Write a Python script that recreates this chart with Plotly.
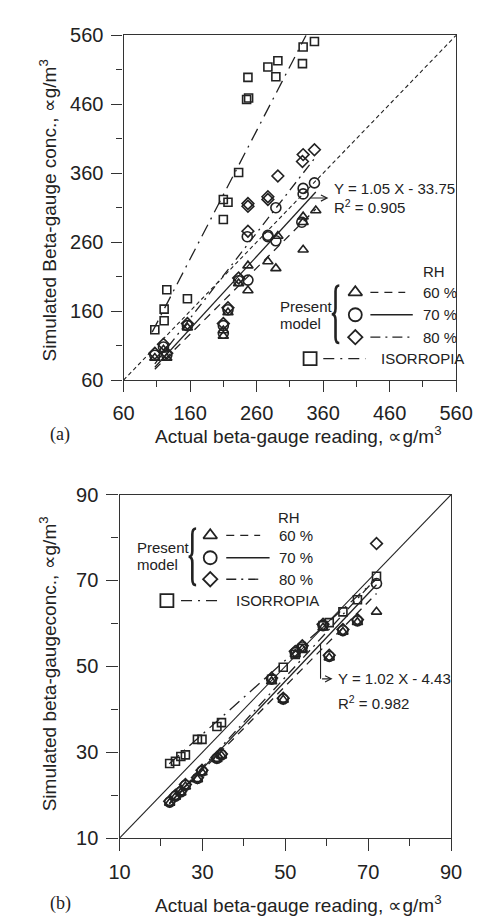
import plotly.graph_objects as go

W, H = 483, 917
FONT = "Liberation Sans, Arial, sans-serif"
INK = "#222222"

# ---------------- Panel (a) data ----------------
a_tri_x = [107, 125, 120, 156, 210, 210, 217, 233, 247, 247, 277, 289, 292, 330, 330, 330, 349]
a_tri_y = [92, 92, 104, 136, 132, 124, 158, 200, 190, 226, 232, 222, 269, 249, 289, 297, 306]

a_cir_x = [107, 125, 120, 156, 210, 210, 217, 233, 247, 246, 277, 289, 289, 330, 330, 347, 328, 277]
a_cir_y = [96, 96, 108, 139, 139, 128, 162, 204, 205, 268, 270, 262, 310, 338, 330, 346, 289, 268]

a_dia_x = [107, 125, 120, 156, 210, 217, 233, 247, 247, 247, 277, 277, 292, 329, 330, 347]
a_dia_y = [99, 99, 112, 142, 142, 165, 208, 276, 312, 316, 322, 326, 356, 377, 387, 394]

a_sq_x = [107, 121, 121, 125, 156, 210, 210, 217, 233, 245, 248, 247, 277, 289, 292, 329, 330, 347]
a_sq_y = [133, 146, 163, 191, 178, 293, 322, 318, 361, 467, 469, 499, 514, 500, 523, 519, 543, 551]

# regression lines (slope, intercept, x start, x end)
a_fit_60 = (0.96, -27.0, 107, 349)
a_fit_70 = (1.05, -33.75, 107, 349)
a_fit_80 = (1.24, -49.0, 107, 347)
a_fit_iso = (1.86, -62.0, 103, 334.4)
a_ticks = [60, 160, 260, 360, 460, 560]

# ---------------- Panel (b) data ----------------
b_x = [22.1, 23.5, 24.8, 25.9, 28.8, 29.9, 33.5, 34.6, 46.7, 49.5, 52.4, 54.1, 59.1, 60.6, 63.9, 67.4, 72.0]
b_tri_y = [18.2, 19.6, 20.6, 22.0, 23.7, 25.3, 28.4, 29.2, 46.5, 42.2, 52.8, 54.0, 59.0, 52.0, 58.0, 60.3, 62.7]
b_cir_y = [18.4, 19.8, 20.8, 22.3, 23.9, 25.6, 28.6, 29.4, 47.0, 42.4, 53.2, 54.5, 59.5, 52.3, 58.3, 60.6, 69.3]
b_dia_y = [18.6, 20.0, 21.0, 22.5, 24.1, 25.8, 28.8, 29.6, 47.3, 42.6, 53.5, 54.8, 59.8, 52.6, 58.6, 60.9, 78.6]
b_sq_y = [27.4, 27.9, 29.0, 29.4, 33.0, 33.0, 36.0, 36.9, 47.0, 49.8, 52.8, 54.2, 59.5, 60.2, 62.7, 65.5, 71.0]

b_fit_60 = (0.98, -3.6, 22, 72)
b_fit_70 = (1.02, -4.43, 22, 72)
b_fit_80 = (1.05, -5.0, 22, 72)
b_fit_iso = (0.86, 8.4, 22, 72)
b_ticks = [10, 30, 50, 70, 90]

series_names = ["60 %", "70 %", "80 %", "ISORROPIA"]
symbols = ["triangle-up-open", "circle-open", "diamond-open", "square-open"]
legend_sizes = [12, 13, 11, 13]
dashes = ["8px,6px", "solid", "10px,5px,2px,5px", "13px,6px,2px,6px"]

fig = go.Figure()


def add_pts(x, y, sym, size, xa, ya):
    fig.add_trace(go.Scatter(x=x, y=y, mode="markers", xaxis=xa, yaxis=ya,
                             marker=dict(symbol=sym, size=size, color=INK,
                                         line=dict(color=INK, width=1.6)),
                             showlegend=False, hoverinfo="skip"))


def add_fit(fit, dash, xa, ya, width=1.3):
    m, c, x0, x1 = fit
    fig.add_trace(go.Scatter(x=[x0, x1], y=[m * x0 + c, m * x1 + c], mode="lines",
                             xaxis=xa, yaxis=ya, line=dict(color=INK, width=width, dash=dash),
                             showlegend=False, hoverinfo="skip"))


# Panel (a)
fig.add_trace(go.Scatter(x=[60, 560], y=[60, 560], mode="lines", xaxis="x", yaxis="y",
                         line=dict(color=INK, width=1.1, dash="4px,3px"),
                         showlegend=False, hoverinfo="skip"))
for fit, d in zip([a_fit_60, a_fit_70, a_fit_80, a_fit_iso], dashes):
    add_fit(fit, d, "x", "y")
add_pts(a_tri_x, a_tri_y, symbols[0], 9, "x", "y")
add_pts(a_cir_x, a_cir_y, symbols[1], 10, "x", "y")
add_pts(a_dia_x, a_dia_y, symbols[2], 9, "x", "y")
add_pts(a_sq_x, a_sq_y, symbols[3], 8, "x", "y")

# Panel (b)
fig.add_trace(go.Scatter(x=[10, 90], y=[10, 90], mode="lines", xaxis="x2", yaxis="y2",
                         line=dict(color=INK, width=1.1), showlegend=False, hoverinfo="skip"))
for fit, d in zip([b_fit_60, b_fit_70, b_fit_80, b_fit_iso], dashes):
    add_fit(fit, d, "x2", "y2")
add_pts(b_x, b_tri_y, symbols[0], 9, "x2", "y2")
add_pts(b_x, b_cir_y, symbols[1], 10, "x2", "y2")
add_pts(b_x, b_dia_y, symbols[2], 9, "x2", "y2")
add_pts(b_x, b_sq_y, symbols[3], 8, "x2", "y2")

# ---------------- Legends (pixel overlay axes) ----------------
legend_rows = {
    "a": dict(mx=357, sqx=309, rows=[280, 303, 326], sqy=348, l0=373, l1=[410, 418, 417],
              lab=427, iso_l=(323, 368), iso_lab=382, rh=(427, 259), pm=(275, 295, 312),
              brace=(340, 273, 332)),
    "b": dict(mx=203, sqx=157, rows=[529, 552, 574], sqy=596, l0=220, l1=[256, 266, 258],
              lab=274, iso_l=(172, 215), iso_lab=228, rh=(273, 511), pm=(123, 542, 559),
              brace=(188, 522, 580)),
}

annotations = []
shapes = []
for key, L in legend_rows.items():
    for i in range(3):
        y = L["rows"][i]
        fig.add_trace(go.Scatter(x=[L["mx"]], y=[y], mode="markers", xaxis="x3", yaxis="y3",
                                 marker=dict(symbol=symbols[i], size=legend_sizes[i], color=INK,
                                             line=dict(color=INK, width=1.8)),
                                 showlegend=False, hoverinfo="skip"))
        fig.add_trace(go.Scatter(x=[L["l0"], L["l1"][i]], y=[y, y], mode="lines", xaxis="x3", yaxis="y3",
                                 line=dict(color=INK, width=1.3, dash=dashes[i]),
                                 showlegend=False, hoverinfo="skip"))
        annotations.append(dict(x=L["lab"] / W, y=1 - y / H, xref="paper", yref="paper",
                                text=series_names[i], showarrow=False, xanchor="left",
                                yanchor="middle", font=dict(family=FONT, size=15, color=INK)))
    fig.add_trace(go.Scatter(x=[L["sqx"]], y=[L["sqy"]], mode="markers", xaxis="x3", yaxis="y3",
                             marker=dict(symbol=symbols[3], size=legend_sizes[3], color=INK,
                                         line=dict(color=INK, width=1.8)),
                             showlegend=False, hoverinfo="skip"))
    fig.add_trace(go.Scatter(x=list(L["iso_l"]), y=[L["sqy"], L["sqy"]], mode="lines",
                             xaxis="x3", yaxis="y3",
                             line=dict(color=INK, width=1.3, dash="11px,6px,2px,6px"),
                             showlegend=False, hoverinfo="skip"))
    annotations.append(dict(x=L["iso_lab"] / W, y=1 - L["sqy"] / H, xref="paper", yref="paper",
                            text="ISORROPIA", showarrow=False, xanchor="left", yanchor="middle",
                            font=dict(family=FONT, size=15, color=INK)))
    annotations.append(dict(x=L["rh"][0] / W, y=1 - L["rh"][1] / H, xref="paper", yref="paper",
                            text="RH", showarrow=False, xanchor="left", yanchor="middle",
                            font=dict(family=FONT, size=15, color=INK)))
    annotations.append(dict(x=L["pm"][0] / W, y=1 - L["pm"][1] / H, xref="paper", yref="paper",
                            text="Present", showarrow=False, xanchor="left", yanchor="middle",
                            font=dict(family=FONT, size=15, color=INK)))
    annotations.append(dict(x=L["pm"][0] / W, y=1 - L["pm"][2] / H, xref="paper", yref="paper",
                            text="model", showarrow=False, xanchor="left", yanchor="middle",
                            font=dict(family=FONT, size=15, color=INK)))
    bx, bt, bb = L["brace"]
    bm = (bt + bb) / 2
    path = (f"M {bx},{bt} Q {bx-4},{bt} {bx-4},{bt+6} L {bx-4},{bm-6} "
            f"Q {bx-4},{bm} {bx-8},{bm} Q {bx-4},{bm} {bx-4},{bm+6} "
            f"L {bx-4},{bb-6} Q {bx-4},{bb} {bx},{bb}")
    shapes.append(dict(type="path", path=path, xref="x3", yref="y3",
                       line=dict(color=INK, width=2.6)))

# ---------------- Regression annotations ----------------
# panel (a): horizontal arrow from line to text
annotations.append(dict(x=368, y=324, ax=339, ay=324, xref="x", yref="y", axref="x", ayref="y",
                        showarrow=True, arrowhead=5, arrowsize=1.1, arrowwidth=1.1,
                        arrowcolor=INK, text=""))
annotations.append(dict(x=332 / W, y=1 - 174 / H, xref="paper", yref="paper",
                        text="Y = 1.05 X - 33.75", showarrow=False, xanchor="left",
                        yanchor="middle", font=dict(family=FONT, size=15, color=INK)))
annotations.append(dict(x=332 / W, y=1 - 192 / H, xref="paper", yref="paper",
                        text="R<sup>2</sup> = 0.905", showarrow=False, xanchor="left",
                        yanchor="middle", font=dict(family=FONT, size=15, color=INK)))
# panel (b): L-shaped arrow
shapes.append(dict(type="line", xref="x2", yref="y2", x0=58.5, y0=55.2, x1=58.5, y1=47.1,
                   line=dict(color=INK, width=1.1)))
annotations.append(dict(x=61.4, y=47.1, ax=58.5, ay=47.1, xref="x2", yref="y2", axref="x2",
                        ayref="y2", showarrow=True, arrowhead=5, arrowsize=1.1, arrowwidth=1.1,
                        arrowcolor=INK, text=""))
annotations.append(dict(x=337 / W, y=1 - 676 / H, xref="paper", yref="paper",
                        text="Y = 1.02 X - 4.43", showarrow=False, xanchor="left",
                        yanchor="middle", font=dict(family=FONT, size=15, color=INK)))
annotations.append(dict(x=337 / W, y=1 - 700 / H, xref="paper", yref="paper",
                        text="R<sup>2</sup> = 0.982", showarrow=False, xanchor="left",
                        yanchor="middle", font=dict(family=FONT, size=15, color=INK)))

# ---------------- Axis titles / panel labels ----------------
def ann_text(x, y, text, size=19, angle=0, family=FONT):
    annotations.append(dict(x=x / W, y=1 - y / H, xref="paper", yref="paper", text=text,
                            showarrow=False, xanchor="center", yanchor="middle",
                            textangle=angle, font=dict(family=family, size=size, color=INK)))

ann_text(297, 426, "Actual beta-gauge reading, ∝g/m<sup>3</sup>")
ann_text(297, 907, "Actual beta-gauge reading, ∝g/m<sup>3</sup>")
ann_text(31, 196, "Simulated Beta-gauge conc., ∝g/m<sup>3</sup>", angle=-90)
ann_text(31, 661, "Simulated beta-gaugeconc., ∝g/m<sup>3</sup>", angle=-90)
ann_text(44, 426, "(a)", size=18, family="Liberation Serif, Times New Roman, serif")
ann_text(44, 906, "(b)", size=18, family="Liberation Serif, Times New Roman, serif")

axis_common = dict(showline=True, mirror=True, linecolor="#333333", linewidth=1.3,
                   ticks="outside", tickcolor="#333333", tickwidth=1.2, showgrid=False,
                   zeroline=False, tickfont=dict(family=FONT, size=20, color=INK),
                   autorange=False, fixedrange=True)

fig.update_layout(
    width=W, height=H, margin=dict(l=0, r=0, t=0, b=0),
    paper_bgcolor="white", plot_bgcolor="rgba(0,0,0,0)", showlegend=False,
    xaxis=dict(domain=[111 / W, 464 / W], anchor="y", range=[60, 560], tickvals=a_ticks,
               ticklen=11, ticklabelstandoff=4,
               minor=dict(dtick=50, tick0=60, ticklen=6, ticks="outside", tickcolor="#333333",
                          showgrid=False),
               **axis_common),
    yaxis=dict(domain=[1 - 370 / H, 1 - 16.7 / H], anchor="x", range=[60, 560], tickvals=a_ticks,
               ticklen=11, ticklabelstandoff=4,
               minor=dict(dtick=50, tick0=60, ticklen=6, ticks="outside", tickcolor="#333333",
                          showgrid=False),
               **axis_common),
    xaxis2=dict(domain=[106.7 / W, 458.7 / W], anchor="y2", range=[10, 90], tickvals=b_ticks,
                ticklen=12, ticklabelstandoff=4,
                minor=dict(dtick=10, tick0=10, ticklen=7, ticks="outside", tickcolor="#333333",
                           showgrid=False),
                **axis_common),
    yaxis2=dict(domain=[1 - 839.3 / H, 1 - 487.3 / H], anchor="x2", range=[10, 90], tickvals=b_ticks,
                ticklen=12, ticklabelstandoff=4,
                minor=dict(dtick=10, tick0=10, ticklen=7, ticks="outside", tickcolor="#333333",
                           showgrid=False),
                **axis_common),
    xaxis3=dict(domain=[0, 1], anchor="y3", range=[0, W], visible=False, fixedrange=True,
                autorange=False),
    yaxis3=dict(domain=[0, 1], anchor="x3", range=[H, 0], visible=False, fixedrange=True,
                autorange=False),
    annotations=annotations,
    shapes=shapes,
)

fig.write_html("out.html")
